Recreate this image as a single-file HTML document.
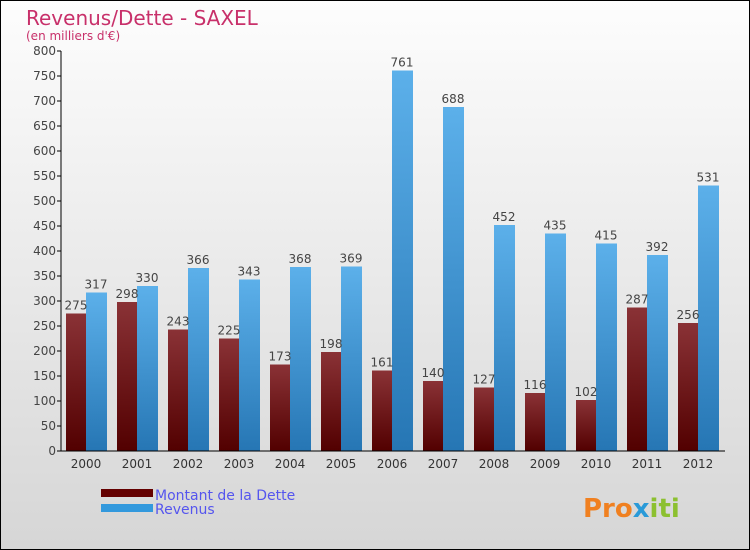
<!DOCTYPE html>
<html><head><meta charset="utf-8"><style>
body{margin:0}
#c{width:748px;height:548px;border:1px solid #000;background:linear-gradient(#fdfdfd,#d6d6d6);position:relative;font-family:"DejaVu Sans","Liberation Sans",sans-serif;overflow:hidden}
</style></head><body>
<div id="c">
<svg id="s" width="748" height="548" xmlns="http://www.w3.org/2000/svg">
<defs>
<linearGradient id="gd" x1="0" y1="0" x2="0" y2="1"><stop offset="0" stop-color="#8a3236"/><stop offset="1" stop-color="#520000"/></linearGradient>
<linearGradient id="gr" x1="0" y1="0" x2="0" y2="1"><stop offset="0" stop-color="#5cb0ea"/><stop offset="1" stop-color="#2676b4"/></linearGradient>
</defs>
<text x="25" y="24" font-size="20" fill="#c8306a">Revenus/Dette - SAXEL</text>
<text x="25" y="39" font-size="12" fill="#c8306a">(en milliers d'€)</text>
<g id="g"></g>
<rect x="100" y="488" width="52" height="8" fill="#640000"/>
<rect x="100" y="503" width="52" height="8" fill="#3399dd"/>
<text x="154" y="499" font-size="14" fill="#5555ee">Montant de la Dette</text>
<text x="154" y="513" font-size="14" fill="#5555ee">Revenus</text>
<text x="582" y="516" font-size="26" font-weight="bold" fill="#f08020">Pro<tspan fill="#2a9ad8">x</tspan><tspan fill="#8cc030">iti</tspan></text>
</svg></div>
<script>
const years=["2000","2001","2002","2003","2004","2005","2006","2007","2008","2009","2010","2011","2012"];
const dette=[275,298,243,225,173,198,161,140,127,116,102,287,256];
const revenus=[317,330,366,343,368,369,761,688,452,435,415,392,531];
const ticks=[0,50,100,150,200,250,300,350,400,450,500,550,600,650,700,750,800];
const NS="http://www.w3.org/2000/svg";
const g=document.getElementById('g');
const y=v=>450-v*0.5, x0=60, step=51;
function mk(t,a,txt){const e=document.createElementNS(NS,t);for(const k in a)e.setAttribute(k,a[k]);if(txt!==undefined)e.textContent=txt;g.appendChild(e);return e;}
years.forEach((yr,i)=>{
 const cx=x0+25+i*step;
 let e=mk('rect',{x:cx-20,y:y(dette[i]),width:20,height:dette[i]*0.5,fill:'url(#gd)'});
 
 
 e=mk('rect',{x:cx,y:y(revenus[i]),width:21,height:revenus[i]*0.5,fill:'url(#gr)'});
 
 
 e=mk('text',{x:cx-10,y:y(dette[i])-4,'font-size':12,fill:'#444','text-anchor':'middle'},dette[i]);
 
 
 e=mk('text',{x:cx+10,y:y(revenus[i])-4,'font-size':12,fill:'#444','text-anchor':'middle'},revenus[i]);
 
 
 e=mk('text',{x:cx,y:467,'font-size':12,fill:'#333','text-anchor':'middle'},yr);
 
 
});
ticks.forEach(t=>{
 let e=mk('line',{x1:56,x2:60,y1:y(t),y2:y(t),stroke:'#000'});
 
 
 e=mk('text',{x:55,y:y(t)+4,'font-size':12,fill:'#444','text-anchor':'end'},t);
 
 
});
let a=mk('line',{x1:60,x2:60,y1:50,y2:450,stroke:'#000'});


a=mk('line',{x1:60,x2:724,y1:450,y2:450,stroke:'#000'});


</script>
</body></html>
